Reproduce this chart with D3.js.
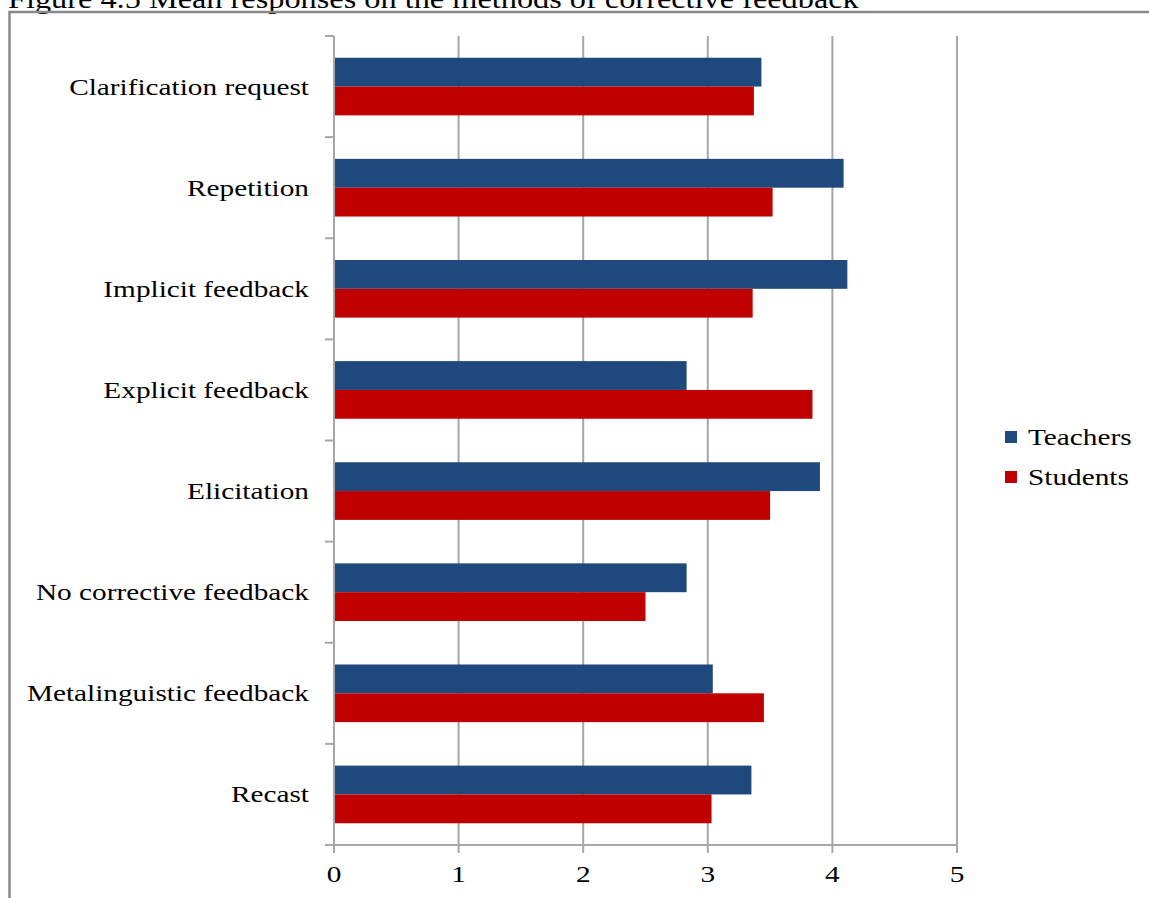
<!DOCTYPE html>
<html>
<head>
<meta charset="utf-8">
<script src="https://cdn.jsdelivr.net/npm/d3@7/dist/d3.min.js"></script>
<style>
  html, body { margin: 0; padding: 0; background: #fff; }
  svg { display: block; }
  text { font-family: "Liberation Serif", "Times New Roman", serif; fill: #000; }
</style>
</head>
<body>
<script>
const categories = ["Clarification request", "Repetition", "Implicit feedback", "Explicit feedback",
  "Elicitation", "No corrective feedback", "Metalinguistic feedback", "Recast"];
const seriesNames = ["Teachers", "Students"];
const teachers = [3.43, 4.09, 4.12, 2.83, 3.90, 2.83, 3.04, 3.35];
const students = [3.37, 3.52, 3.36, 3.84, 3.50, 2.50, 3.45, 3.03];
const xTicks = [0, 1, 2, 3, 4, 5];
const colors = ["#1F497D", "#C00000"];
const titleText = "Figure 4.5 Mean responses on the methods of corrective feedback";

const W = 1149, H = 898;
const SX = 1.22; // horizontal stretch of the reference's text
const tf = (px, py) => `translate(${px},${py}) scale(${SX},1)`;
const svg = d3.select("body").append("svg").attr("width", W).attr("height", H);

// title (cut off at top, as in the reference)
svg.append("text").attr("transform", tf(8, 8)).attr("font-size", 26.5).text(titleText);

// border
svg.append("rect").attr("x", 9.5).attr("y", 12).attr("width", W + 10).attr("height", H + 10)
  .attr("fill", "none").attr("stroke", "#898989").attr("stroke-width", 2.5);

const x = d3.scaleLinear().domain([0, 5]).range([334, 957]);
const y = d3.scaleBand().domain(categories).range([36, 845]).paddingInner(0.43).paddingOuter(0.215);
const yInner = d3.scaleBand().domain(seriesNames).range([0, y.bandwidth()]);

// gridlines
svg.append("g").selectAll("line").data(xTicks.slice(1)).join("line")
  .attr("x1", d => x(d)).attr("x2", d => x(d)).attr("y1", 36).attr("y2", 845)
  .attr("stroke", "#a6a6a6").attr("stroke-width", 2);

// bars
const rows = categories.map((c, i) => ({ c, vals: [teachers[i], students[i]] }));
const g = svg.append("g").selectAll("g").data(rows).join("g")
  .attr("transform", d => `translate(0,${y(d.c)})`);
g.selectAll("rect").data(d => d.vals.map((v, k) => ({ v, k }))).join("rect")
  .attr("x", x(0)).attr("y", d => yInner(seriesNames[d.k]))
  .attr("width", d => x(d.v) - x(0)).attr("height", yInner.bandwidth())
  .attr("fill", d => colors[d.k]);

// category axis (left)
const bounds = d3.range(categories.length + 1).map(i => 36 + i * y.step());
svg.append("line").attr("x1", 334).attr("x2", 334).attr("y1", 36).attr("y2", 853)
  .attr("stroke", "#a6a6a6").attr("stroke-width", 2);
svg.append("g").selectAll("line").data(bounds).join("line")
  .attr("x1", 325).attr("x2", 334).attr("y1", d => d).attr("y2", d => d)
  .attr("stroke", "#a6a6a6").attr("stroke-width", 2);
svg.append("g").selectAll("text").data(categories).join("text")
  .attr("transform", d => tf(309, y(d) + y.bandwidth() / 2 + 8))
  .attr("text-anchor", "end").attr("font-size", 24).text(d => d);

// value axis (bottom)
svg.append("line").attr("x1", 325).attr("x2", 958).attr("y1", 845).attr("y2", 845)
  .attr("stroke", "#a6a6a6").attr("stroke-width", 2);
svg.append("g").selectAll("line").data(xTicks).join("line")
  .attr("x1", d => x(d)).attr("x2", d => x(d)).attr("y1", 845).attr("y2", 853)
  .attr("stroke", "#a6a6a6").attr("stroke-width", 2);
svg.append("g").selectAll("text").data(xTicks).join("text")
  .attr("transform", d => tf(x(d), 882)).attr("text-anchor", "middle").attr("font-size", 24)
  .text(d => d);

// legend
const lg = svg.append("g").selectAll("g").data(seriesNames).join("g")
  .attr("transform", (d, i) => `translate(1005,${431 + i * 40})`);
lg.append("rect").attr("width", 12).attr("height", 12).attr("fill", (d, i) => colors[i]);
lg.append("text").attr("transform", tf(23, 14)).attr("font-size", 24).text(d => d);
</script>
</body>
</html>
